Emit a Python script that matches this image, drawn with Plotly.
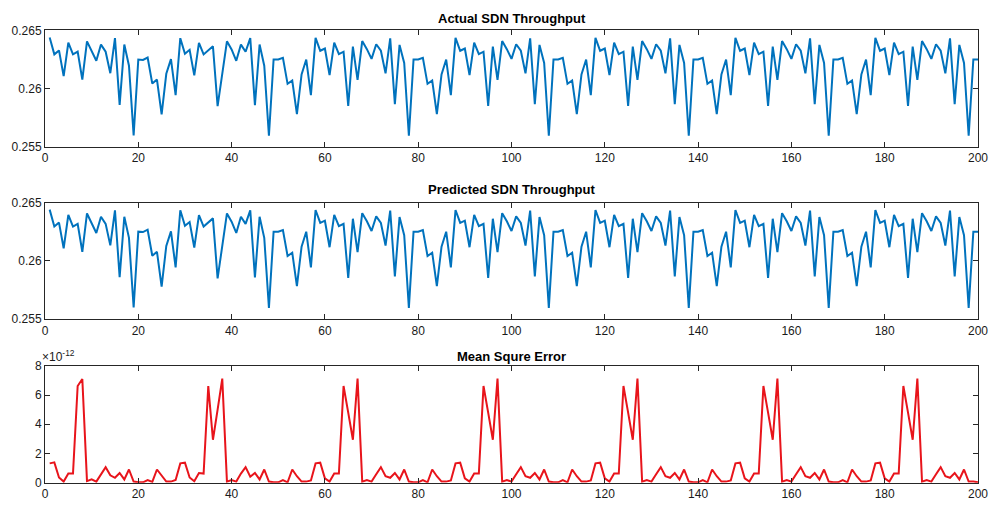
import plotly.graph_objects as go

x_index = list(range(1, 201))

actual_throughput = [
    0.26439, 0.26294, 0.26328, 0.26108, 0.26394, 0.26294, 0.26317, 0.26078, 0.26406, 0.26322,
    0.26239, 0.26378, 0.26317, 0.26133, 0.26433, 0.25861, 0.26378, 0.26197, 0.25600, 0.26250,
    0.26247, 0.26267, 0.26044, 0.26078, 0.25780, 0.26128, 0.26253, 0.25944, 0.26433, 0.26300,
    0.26333, 0.26114, 0.26392, 0.26294, 0.26328, 0.26364, 0.25850, 0.26128, 0.26406, 0.26336,
    0.26239, 0.26378, 0.26317, 0.26433, 0.25858, 0.26378, 0.26197,
    0.25597, 0.26250, 0.26250, 0.26264, 0.26042, 0.26070, 0.25783, 0.26122, 0.26250, 0.25944,
    0.26436, 0.26325, 0.26344, 0.26117, 0.26394, 0.26297, 0.26317, 0.25853, 0.26361, 0.26075,
    0.26408, 0.26339, 0.26256, 0.26381, 0.26325, 0.26131, 0.26431, 0.25867, 0.26375, 0.26220,
    0.25597, 0.26250, 0.26250, 0.26264, 0.26042, 0.26070, 0.25783, 0.26122, 0.26250, 0.25944,
    0.26436, 0.26325, 0.26344, 0.26117, 0.26394, 0.26297, 0.26317, 0.25853, 0.26361, 0.26075,
    0.26408, 0.26339, 0.26256, 0.26381, 0.26325, 0.26131, 0.26431, 0.25867, 0.26375, 0.26220,
    0.25597, 0.26250, 0.26250, 0.26264, 0.26042, 0.26070, 0.25783, 0.26122, 0.26250, 0.25944,
    0.26436, 0.26325, 0.26344, 0.26117, 0.26394, 0.26297, 0.26317, 0.25853, 0.26361, 0.26075,
    0.26408, 0.26339, 0.26256, 0.26381, 0.26325, 0.26131, 0.26431, 0.25867, 0.26375, 0.26220,
    0.25597, 0.26250, 0.26250, 0.26264, 0.26042, 0.26070, 0.25783, 0.26122, 0.26250, 0.25944,
    0.26436, 0.26325, 0.26344, 0.26117, 0.26394, 0.26297, 0.26317, 0.25853, 0.26361, 0.26075,
    0.26408, 0.26339, 0.26256, 0.26381, 0.26325, 0.26131, 0.26431, 0.25867, 0.26375, 0.26220,
    0.25597, 0.26250, 0.26250, 0.26264, 0.26042, 0.26070, 0.25783, 0.26122, 0.26250, 0.25944,
    0.26436, 0.26325, 0.26344, 0.26117, 0.26394, 0.26297, 0.26317, 0.25853, 0.26361, 0.26075,
    0.26408, 0.26339, 0.26256, 0.26381, 0.26325, 0.26131, 0.26431, 0.25867, 0.26375, 0.26220,
    0.25597, 0.26250, 0.26250,
]

predicted_throughput = [
    0.26439, 0.26294, 0.26328, 0.26108, 0.26394, 0.26294, 0.26317, 0.26078, 0.26406, 0.26322,
    0.26239, 0.26378, 0.26317, 0.26133, 0.26433, 0.25861, 0.26378, 0.26197, 0.25600, 0.26250,
    0.26247, 0.26267, 0.26044, 0.26078, 0.25780, 0.26128, 0.26253, 0.25944, 0.26433, 0.26300,
    0.26333, 0.26114, 0.26392, 0.26294, 0.26328, 0.26364, 0.25850, 0.26128, 0.26406, 0.26336,
    0.26239, 0.26378, 0.26317, 0.26433, 0.25858, 0.26378, 0.26197,
    0.25597, 0.26250, 0.26250, 0.26264, 0.26042, 0.26070, 0.25783, 0.26122, 0.26250, 0.25944,
    0.26436, 0.26325, 0.26344, 0.26117, 0.26394, 0.26297, 0.26317, 0.25853, 0.26361, 0.26075,
    0.26408, 0.26339, 0.26256, 0.26381, 0.26325, 0.26131, 0.26431, 0.25867, 0.26375, 0.26220,
    0.25597, 0.26250, 0.26250, 0.26264, 0.26042, 0.26070, 0.25783, 0.26122, 0.26250, 0.25944,
    0.26436, 0.26325, 0.26344, 0.26117, 0.26394, 0.26297, 0.26317, 0.25853, 0.26361, 0.26075,
    0.26408, 0.26339, 0.26256, 0.26381, 0.26325, 0.26131, 0.26431, 0.25867, 0.26375, 0.26220,
    0.25597, 0.26250, 0.26250, 0.26264, 0.26042, 0.26070, 0.25783, 0.26122, 0.26250, 0.25944,
    0.26436, 0.26325, 0.26344, 0.26117, 0.26394, 0.26297, 0.26317, 0.25853, 0.26361, 0.26075,
    0.26408, 0.26339, 0.26256, 0.26381, 0.26325, 0.26131, 0.26431, 0.25867, 0.26375, 0.26220,
    0.25597, 0.26250, 0.26250, 0.26264, 0.26042, 0.26070, 0.25783, 0.26122, 0.26250, 0.25944,
    0.26436, 0.26325, 0.26344, 0.26117, 0.26394, 0.26297, 0.26317, 0.25853, 0.26361, 0.26075,
    0.26408, 0.26339, 0.26256, 0.26381, 0.26325, 0.26131, 0.26431, 0.25867, 0.26375, 0.26220,
    0.25597, 0.26250, 0.26250, 0.26264, 0.26042, 0.26070, 0.25783, 0.26122, 0.26250, 0.25944,
    0.26436, 0.26325, 0.26344, 0.26117, 0.26394, 0.26297, 0.26317, 0.25853, 0.26361, 0.26075,
    0.26408, 0.26339, 0.26256, 0.26381, 0.26325, 0.26131, 0.26431, 0.25867, 0.26375, 0.26220,
    0.25597, 0.26250, 0.26250,
]

# Mean squared error, in units of 1e-12
mse_e12 = [
    1.32, 1.39, 0.35, 0.07, 0.62, 0.62, 6.62, 7.10, 0.10, 0.22,
    0.07, 0.57, 1.06, 0.50, 0.33, 0.66, 0.22, 0.90, 0.07, 0.02,
    0.02, 0.18, 0.05, 0.90, 0.44, 0.07, 0.07, 0.18, 1.32, 1.37,
    0.35, 0.10, 0.66, 0.62, 6.62, 2.94, 5.00, 7.13, 0.07, 0.18,
    0.07, 0.62, 1.06, 0.40, 0.66, 0.22, 0.90,
    0.07, 0.02, 0.02, 0.18, 0.02, 0.90, 0.44, 0.07, 0.07, 0.15,
    1.32, 1.37, 0.29, 0.07, 0.62, 0.62, 6.62, 4.80, 2.94, 7.13,
    0.07, 0.18, 0.07, 0.57, 1.06, 0.44, 0.33, 0.66, 0.22, 0.90,
    0.07, 0.02, 0.02, 0.18, 0.02, 0.90, 0.44, 0.07, 0.07, 0.15,
    1.32, 1.37, 0.29, 0.07, 0.62, 0.62, 6.62, 4.80, 2.94, 7.13,
    0.07, 0.18, 0.07, 0.57, 1.06, 0.44, 0.33, 0.66, 0.22, 0.90,
    0.07, 0.02, 0.02, 0.18, 0.02, 0.90, 0.44, 0.07, 0.07, 0.15,
    1.32, 1.37, 0.29, 0.07, 0.62, 0.62, 6.62, 4.80, 2.94, 7.13,
    0.07, 0.18, 0.07, 0.57, 1.06, 0.44, 0.33, 0.66, 0.22, 0.90,
    0.07, 0.02, 0.02, 0.18, 0.02, 0.90, 0.44, 0.07, 0.07, 0.15,
    1.32, 1.37, 0.29, 0.07, 0.62, 0.62, 6.62, 4.80, 2.94, 7.13,
    0.07, 0.18, 0.07, 0.57, 1.06, 0.44, 0.33, 0.66, 0.22, 0.90,
    0.07, 0.02, 0.02, 0.18, 0.02, 0.90, 0.44, 0.07, 0.07, 0.15,
    1.32, 1.37, 0.29, 0.07, 0.62, 0.62, 6.62, 4.80, 2.94, 7.13,
    0.07, 0.18, 0.07, 0.57, 1.06, 0.44, 0.33, 0.66, 0.22, 0.90,
    0.07, 0.07, 0.02,
]

titles = ["Actual SDN Throughput", "Predicted SDN Throughput", "Mean Squre Error"]
x_ticks = [0, 20, 40, 60, 80, 100, 120, 140, 160, 180, 200]
thr_ticks = [0.255, 0.26, 0.265]
mse_ticks = [0, 2, 4, 6, 8]

W, H = 990, 512
L, R = 45, 12
PW = W - L - R

def dom(top_px, bot_px):
    return [1 - bot_px / H, 1 - top_px / H]

AXC = "#262626"
FONT = "Liberation Sans, Arial, sans-serif"

fig = go.Figure()
fig.add_trace(go.Scatter(x=x_index, y=actual_throughput, mode="lines",
                         line=dict(color="#0072BD", width=2), xaxis="x", yaxis="y"))
fig.add_trace(go.Scatter(x=x_index, y=predicted_throughput, mode="lines",
                         line=dict(color="#0072BD", width=2), xaxis="x2", yaxis="y2"))
fig.add_trace(go.Scatter(x=x_index, y=mse_e12, mode="lines",
                         line=dict(color="#E8141B", width=2), xaxis="x3", yaxis="y3"))

tickfont = dict(family=FONT, size=12, color="#1a1a1a")
common_x = dict(range=[0, 200], tickvals=x_ticks, ticks="inside", ticklen=5,
                showline=True, linecolor=AXC, linewidth=1, mirror="allticks",
                showgrid=False, zeroline=False, tickcolor=AXC, tickfont=tickfont)
common_y = dict(ticks="inside", ticklen=5, showline=True, linecolor=AXC, linewidth=1,
                mirror="allticks", showgrid=False, zeroline=False, tickcolor=AXC,
                tickfont=tickfont)

fig.update_layout(
    width=W, height=H,
    margin=dict(l=L, r=R, t=0, b=0),
    paper_bgcolor="white", plot_bgcolor="white",
    showlegend=False,
    xaxis=dict(domain=[0, 1], anchor="y", **common_x),
    yaxis=dict(domain=dom(24, 144), anchor="x", range=[0.255, 0.265],
               tickvals=thr_ticks, ticktext=["0.255", "0.26", "0.265"], **common_y),
    xaxis2=dict(domain=[0, 1], anchor="y2", **common_x),
    yaxis2=dict(domain=dom(201, 321), anchor="x2", range=[0.255, 0.265],
                tickvals=thr_ticks, ticktext=["0.255", "0.26", "0.265"], **common_y),
    xaxis3=dict(domain=[0, 1], anchor="y3", **common_x),
    yaxis3=dict(domain=dom(369, 489), anchor="x3", range=[0, 8],
                tickvals=mse_ticks, **common_y),
)

title_y_px = [12, 188, 359]
for t, ypx in zip(titles, title_y_px):
    fig.add_annotation(text="<b>" + t + "</b>", xref="paper", yref="paper",
                       x=0.5, y=1 - ypx / H, xanchor="center", yanchor="middle",
                       showarrow=False, font=dict(family=FONT, size=13, color="black"))

fig.add_annotation(text="×10<sup>-12</sup>", xref="paper", yref="paper",
                   x=(40 - L) / PW, y=1 - 359 / H, xanchor="left", yanchor="middle",
                   showarrow=False, font=dict(family=FONT, size=12, color="#1a1a1a"))

fig.write_html("out.html")
